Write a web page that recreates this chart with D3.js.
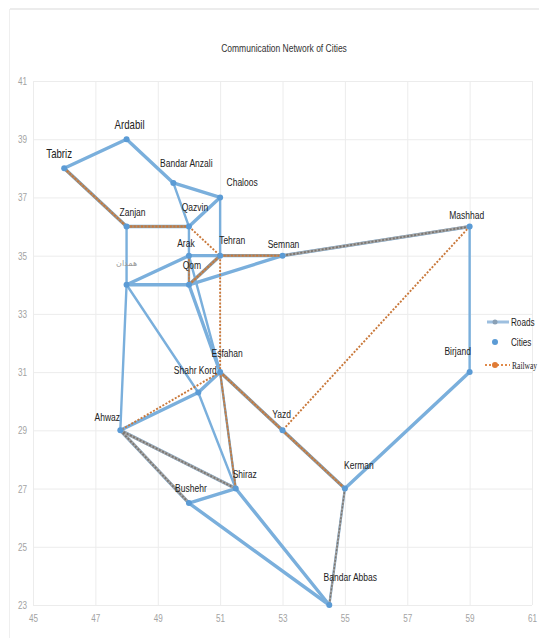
<!DOCTYPE html>
<html>
<head>
<meta charset="utf-8">
<script src="https://cdn.jsdelivr.net/npm/d3@7"></script>
<style>
html,body{margin:0;padding:0;background:#fff;overflow:hidden}
svg{display:block}
text{font-family:"Liberation Sans",sans-serif}
</style>
</head>
<body>
<div id="chart"></div>
<script>
// City coordinates: longitude (x) and latitude (y)
const cityNames = ["Tabriz","Ardabil","Bandar Anzali","Chaloos","Qazvin","Zanjan","Arak","Tehran","Semnan","Mashhad","همدان","Qom","Esfahan","Shahr Kord","Ahwaz","Yazd","Birjand","Shiraz","Kerman","Bushehr","Bandar Abbas"];
const cityLon = [46,48,49.5,51,50,48,50,51,53,59,48,50,51,50.3,47.8,53,59,51.5,55,50,54.5];
const cityLat = [38,39,37.5,37,36,36,35,35,35,36,34,34,31,30.3,29,29,31,27,27,26.5,23];

const roadLinks = [
  ["Tabriz","Ardabil"],["Ardabil","Bandar Anzali"],["Bandar Anzali","Chaloos"],["Bandar Anzali","Qazvin"],
  ["Chaloos","Qazvin"],["Chaloos","Tehran"],["Tabriz","Zanjan"],["Zanjan","Qazvin"],["Zanjan","همدان"],
  ["Qazvin","Arak"],["همدان","Arak"],["Arak","Tehran"],["همدان","Qom"],["Arak","Qom"],["Qom","Tehran"],
  ["Qom","Semnan"],["Tehran","Semnan"],["Semnan","Mashhad"],["Mashhad","Birjand"],["Birjand","Kerman"],
  ["Kerman","Yazd"],["Yazd","Esfahan"],["Esfahan","Shiraz"],["Qom","Esfahan"],["Arak","Esfahan"],
  ["همدان","Shahr Kord"],["Shahr Kord","Shiraz"],["Shahr Kord","Esfahan"],["Ahwaz","Shahr Kord"],
  ["همدان","Ahwaz"],["Ahwaz","Shiraz"],["Ahwaz","Bushehr"],["Bushehr","Shiraz"],["Bushehr","Bandar Abbas"],
  ["Shiraz","Bandar Abbas"],["Kerman","Bandar Abbas"]
];
const railLinks = [
  ["Tabriz","Zanjan"],["Zanjan","Qazvin"],["Qazvin","Tehran"],["Tehran","Semnan"],["Semnan","Mashhad"],
  ["Mashhad","Yazd"],["Tehran","Esfahan"],["Arak","Qom"],["Qom","Tehran"],["Esfahan","Shiraz"],
  ["Esfahan","Yazd"],["Yazd","Kerman"],["Kerman","Bandar Abbas"],["Esfahan","Ahwaz"],["Ahwaz","Shiraz"],
  ["Ahwaz","Bushehr"]
];
const xTicks = [45,47,49,51,53,55,57,59,61];
const yTicks = [23,25,27,29,31,33,35,37,39,41];
const legendLabels = ["Roads","Cities","Railway"];
const chartTitle = "Communication Network of Cities";

// Label placement relative to each city's point: dx, dy, font size
const labelOffset = {
  "Tabriz":[-5,-15,13],"Ardabil":[3,-15,13],"Bandar Anzali":[13,-20,11.5],"Chaloos":[22,-15,11.5],
  "Qazvin":[6,-20,11.5],"Zanjan":[6,-15,11.5],"Arak":[-3,-13,11.5],"Tehran":[12,-16,11.5],
  "Semnan":[1,-12,11.5],"Mashhad":[-3,-12,11.5],"همدان":[0,-22,8],"Qom":[3,-20,11.5],
  "Esfahan":[7,-19,11.5],"Shahr Kord":[-3,-23,11.5],"Ahwaz":[-13,-13,11.5],"Yazd":[-1,-16,11.5],
  "Birjand":[-12,-21,11.5],"Shiraz":[9,-15,11.5],"Kerman":[14,-24,11.5],"Bushehr":[2,-15,11.5],
  "Bandar Abbas":[21,-28,11.5]
};
const narrowX = 0.74;

// Roads drawn with the lighter stroke
const key = d => [d[0],d[1]].sort().join("|");
const lightRoads = new Set([
  ["Bandar Anzali","Qazvin"],["Chaloos","Tehran"],["Zanjan","همدان"],["Qazvin","Arak"],["همدان","Ahwaz"],
  ["Mashhad","Birjand"],["Shahr Kord","Shiraz"],["همدان","Shahr Kord"],["Arak","Qom"],["Arak","Esfahan"],
  ["Esfahan","Shiraz"],["Kerman","Bandar Abbas"]
].map(key));
// Rail sections whose dots read as grey rather than orange
const greyRails = new Set([["Ahwaz","Shiraz"],["Ahwaz","Bushehr"],["Semnan","Mashhad"],["Kerman","Bandar Abbas"]].map(key));

const width = 539, height = 638;
const x = d3.scaleLinear().domain([45,61]).range([33,532]);
const y = d3.scaleLinear().domain([23,41]).range([605,81]);

const lookup = new Map(cityNames.map((n,i)=>[n,[x(cityLon[i]),y(cityLat[i])]]));
const svg = d3.select("#chart").append("svg").attr("width",width).attr("height",height);

// Page frame
svg.append("line").attr("x1",10).attr("x2",539).attr("y1",9).attr("y2",9).attr("stroke","#d9d9d9").attr("stroke-width",1.2);
svg.append("line").attr("x1",9.5).attr("x2",9.5).attr("y1",9).attr("y2",638).attr("stroke","#efefef");

// Axes with their ticks extended into gridlines
const gx = svg.append("g").attr("transform",`translate(0,${y(23)})`)
  .call(d3.axisBottom(x).tickValues(xTicks).tickSize(y(41)-y(23)).tickPadding(0));
const gy = svg.append("g").attr("transform",`translate(${x(45)},0)`)
  .call(d3.axisLeft(y).tickValues(yTicks).tickSize(x(45)-x(61)).tickPadding(0));
[gx,gy].forEach(g=>{
  g.select(".domain").remove();
  g.selectAll("line").attr("stroke","#ececec").attr("stroke-width",1);
  g.selectAll("text").attr("fill","#a3a3a3").attr("font-size",11);
});
gx.selectAll("text").attr("y",0).attr("dy","0.35em").attr("transform",`translate(0,13) scale(${narrowX},1)`);
gy.selectAll("text").attr("x",0).attr("text-anchor","end").attr("transform",`translate(-6,0) scale(${narrowX},1)`);

const linkPath = d3.line();
const links = (data,cls)=>svg.append("g").attr("class",cls).selectAll("path").data(data).join("path")
  .attr("d",d=>linkPath([lookup.get(d[0]),lookup.get(d[1])])).attr("fill","none");
const onRoad = d => roadLinks.some(r=>key(r)===key(d));

links(roadLinks,"roads").attr("stroke","#7aafdc").attr("stroke-linecap","round")
  .attr("stroke-width",d=>lightRoads.has(key(d))?2.4:3.4);
links(railLinks.filter(onRoad),"rail-base")
  .attr("stroke",d=>greyRails.has(key(d))?"#a8a8a8":"#a3917f")
  .attr("stroke-width",d=>lightRoads.has(key(d))?2:2.9);
links(railLinks,"rail")
  .attr("stroke",d=>greyRails.has(key(d))?"#7a7672":"#c9783a")
  .attr("stroke-width",d=>lightRoads.has(key(d))?1.4:1.9).attr("stroke-dasharray","2 1.6");

// City points
svg.append("g").selectAll("circle").data(cityNames).join("circle")
  .attr("cx",d=>lookup.get(d)[0]).attr("cy",d=>lookup.get(d)[1]).attr("r",3).attr("fill","#5b9bd5");

// City labels, condensed horizontally
svg.append("g").selectAll("text").data(cityNames).join("text")
  .attr("transform",d=>{
    const p = lookup.get(d), o = labelOffset[d];
    const sx = d==="همدان" ? 1 : narrowX;
    return `translate(${p[0]+o[0]},${p[1]+o[1]}) scale(${sx},1)`;
  })
  .attr("dy","0.35em").attr("text-anchor","middle")
  .attr("font-size",d=>labelOffset[d][2])
  .attr("fill",d=>d==="همدان"?"#999":"#222")
  .style("font-family",d=>d==="همدان"?'"DejaVu Sans",sans-serif':null)
  .text(d=>d);

// Title
svg.append("text").attr("transform",`translate(284,48) scale(${narrowX},1)`).attr("dy","0.35em").attr("text-anchor","middle")
  .attr("font-size",11.5).attr("fill","#333").text(chartTitle);

// Legend
const legend = svg.append("g");
legend.append("line").attr("x1",487).attr("x2",509).attr("y1",322).attr("y2",322).attr("stroke","#9dbfdf").attr("stroke-width",3);
legend.append("circle").attr("cx",495).attr("cy",322).attr("r",2.5).attr("fill","#8aa0b5");
legend.append("circle").attr("cx",495).attr("cy",342).attr("r",3).attr("fill","#5b9bd5");
legend.append("line").attr("x1",485).attr("x2",510).attr("y1",365).attr("y2",365).attr("stroke","#e08a4a").attr("stroke-width",2).attr("stroke-dasharray","2 2");
legend.append("circle").attr("cx",495).attr("cy",365).attr("r",3).attr("fill","#e07b35");
legend.selectAll("text").data(legendLabels).join("text")
  .attr("transform",(d,i)=>`translate(${i===2?512:511},${[322,342,365][i]}) scale(${i===2?0.72:narrowX},1)`)
  .attr("dy","0.35em")
  .attr("font-size",(d,i)=>i===2?10.5:11).attr("fill","#222")
  .style("font-family",(d,i)=>i===2?'"Liberation Serif",serif':null)
  .text(d=>d);
</script>
</body>
</html>
